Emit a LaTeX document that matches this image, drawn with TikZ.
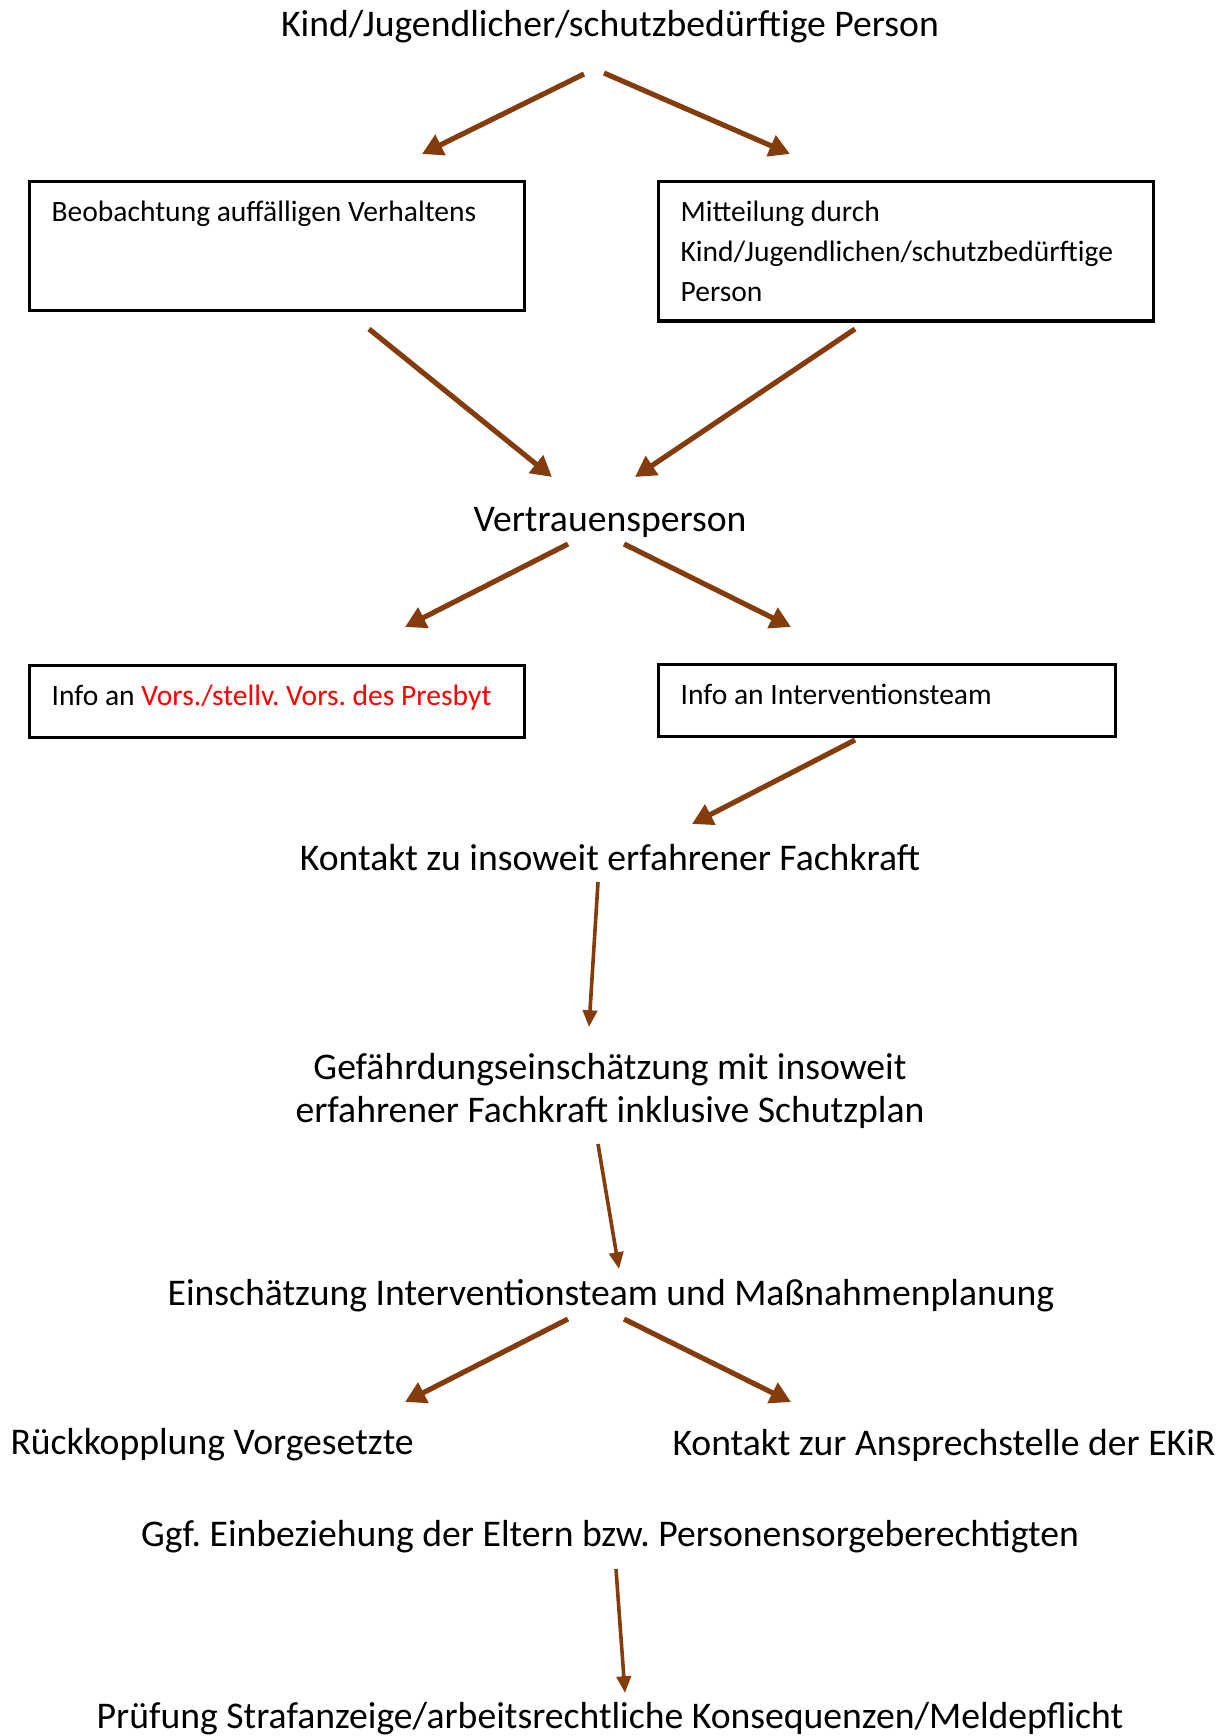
\documentclass[tikz,border=0pt]{standalone}
\usepackage{fontspec}
\setmainfont{Carlito}
\frenchspacing
\usetikzlibrary{arrows.meta}
\definecolor{arrowbrown}{RGB}{132,60,12}
\definecolor{mark red}{RGB}{255,0,0}
\tikzset{
  flow/.style={draw=arrowbrown, line width=2pt, -{Triangle[length=8pt,width=8.5pt]}},
  thinflow/.style={draw=arrowbrown, line width=1.4pt, -{Triangle[length=6.5pt,width=5.5pt]}},
  stage/.style={inner sep=0pt, align=flush center, font=\fontsize{14.6pt}{17pt}\selectfont},
  infobox/.style={draw, line width=1.3pt, anchor=north west, align=flush left,
    inner xsep=8.5pt, inner ysep=7.6pt, font=\fontsize{11.45pt}{15.4pt}\selectfont},
}
\begin{document}
\begin{tikzpicture}[x=0.3876pt, y=-0.3876pt]
\useasboundingbox (0,0) rectangle (1224,1736);
% stages
\node[stage] (child) at (610,27) {Kind/Jugendlicher/schutzbedürftige Person};
\node[infobox, text width=174.8pt, text depth=26.9pt] (observe) at (28,180) {Beobachtung auffälligen Verhaltens};
\node[infobox, text width=174.8pt] (report) at (657,180) {Mitteilung durch\\Kind/Jugendlichen/schutzbedürftige\\Person};
\node[stage] (trust) at (610,522) {Vertrauensperson};
\node[infobox, text width=174.8pt, text depth=4.6pt] (board) at (28,664) {Info an \textcolor{mark red}{Vors./stellv. Vors. des Presbyt}};
\node[infobox, text width=160.1pt, text depth=4.8pt] (team) at (657,663) {Info an Interventionsteam};
\node[stage] (expert) at (610,858) {Kontakt zu insoweit erfahrener Fachkraft};
\node[stage] (risk) at (610,1091) {Gefährdungseinschätzung mit insoweit\\erfahrener Fachkraft inklusive Schutzplan};
\node[stage] (plan) at (611,1296) {Einschätzung Interventionsteam und Maßnahmenplanung};
\node[stage, anchor=west] (superior) at (10,1445) {Rückkopplung Vorgesetzte};
\node[stage, anchor=west] (ekir) at (672,1445) {Kontakt zur Ansprechstelle der EKiR};
\node[stage] (parents) at (610,1537) {Ggf. Einbeziehung der Eltern bzw. Personensorgeberechtigten};
\node[stage] (exam) at (610,1719) {Prüfung Strafanzeige/arbeitsrechtliche Konsequenzen/Meldepflicht};

% free arrow ends
\coordinate (child-l) at (584,74);   \coordinate (observe-in) at (422,154);
\coordinate (child-r) at (604,73);   \coordinate (report-in) at (790,154);
\coordinate (observe-out) at (369,329); \coordinate (trust-l) at (552,477);
\coordinate (report-out) at (855,329);  \coordinate (trust-r) at (635,477);
\coordinate (trust-bl) at (568,544); \coordinate (board-in) at (405,627);
\coordinate (trust-br) at (624,544); \coordinate (team-in) at (791,627);
\coordinate (team-out) at (855,740); \coordinate (expert-in) at (692,824);
\coordinate (expert-out) at (598,882); \coordinate (risk-in) at (589,1027);
\coordinate (risk-out) at (598,1144); \coordinate (plan-in) at (619,1269);
\coordinate (plan-l) at (568,1319); \coordinate (superior-in) at (405,1402);
\coordinate (plan-r) at (624,1319); \coordinate (ekir-in) at (791,1402);
\coordinate (parents-out) at (616,1569); \coordinate (exam-in) at (625,1693);

% connectors
\draw[flow] (child-l) -- (observe-in);
\draw[flow] (child-r) -- (report-in);
\draw[flow] (observe-out) -- (trust-l);
\draw[flow] (report-out) -- (trust-r);
\draw[flow] (trust-bl) -- (board-in);
\draw[flow] (trust-br) -- (team-in);
\draw[flow] (team-out) -- (expert-in);
\draw[thinflow] (expert-out) -- (risk-in);
\draw[thinflow] (risk-out) -- (plan-in);
\draw[flow] (plan-l) -- (superior-in);
\draw[flow] (plan-r) -- (ekir-in);
\draw[thinflow] (parents-out) -- (exam-in);
\end{tikzpicture}
\end{document}
